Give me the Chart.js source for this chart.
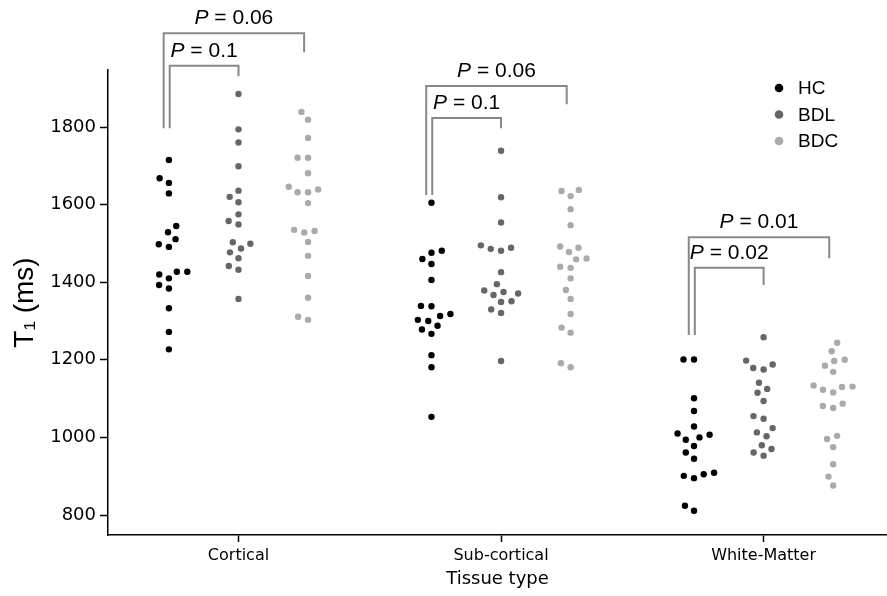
<!DOCTYPE html>
<html><head><meta charset="utf-8">
<script src="https://cdn.jsdelivr.net/npm/chart.js@4"></script>
<style>html,body{margin:0;padding:0;background:#fff}#wrap{width:887px;height:596px;position:relative}</style>
</head><body><div id="wrap"><canvas id="c" width="887" height="596"></canvas></div>
<script>
const categories = ['Cortical', 'Sub-cortical', 'White-Matter'];
const groups = ['HC', 'BDL', 'BDC'];
const yTicks = [800, 1000, 1200, 1400, 1600, 1800];

// T1 values (ms) per category for each group
const hcCortical = [1715, 1668, 1656, 1629, 1545, 1529, 1511, 1498, 1491, 1427, 1427, 1420, 1410, 1393, 1384, 1333, 1272, 1227];
const bdlCortical = [1885, 1794, 1760, 1699, 1636, 1620, 1606, 1575, 1558, 1549, 1503, 1499, 1487, 1477, 1462, 1442, 1432, 1357];
const bdcCortical = [1839, 1819, 1772, 1721, 1721, 1681, 1646, 1639, 1632, 1632, 1604, 1535, 1532, 1528, 1504, 1468, 1416, 1360, 1311, 1303];

const hcSubcortical = [1605, 1481, 1476, 1460, 1447, 1406, 1339, 1338, 1318, 1313, 1303, 1300, 1288, 1278, 1267, 1212, 1181, 1053];
const bdlSubcortical = [1739, 1619, 1554, 1495, 1489, 1486, 1481, 1426, 1395, 1379, 1375, 1371, 1367, 1351, 1349, 1330, 1321, 1197];
const bdcSubcortical = [1638, 1635, 1622, 1588, 1547, 1492, 1489, 1478, 1461, 1459, 1440, 1437, 1410, 1380, 1357, 1318, 1283, 1270, 1191, 1181];

const hcWhite = [1201, 1201, 1101, 1068, 1028, 1010, 1007, 1000, 994, 978, 961, 945, 909, 905, 901, 895, 824, 811];
const bdlWhite = [1258, 1198, 1188, 1179, 1175, 1141, 1125, 1115, 1094, 1055, 1048, 1024, 1013, 1003, 980, 970, 961, 953];
const bdcWhite = [1244, 1222, 1200, 1197, 1185, 1169, 1134, 1131, 1130, 1123, 1116, 1087, 1081, 1076, 1004, 996, 975, 931, 899, 876];

const seriesValues = [
  [hcCortical, hcSubcortical, hcWhite],
  [bdlCortical, bdlSubcortical, bdlWhite],
  [bdcCortical, bdcSubcortical, bdcWhite]
];

// significance annotations (bracket heights in ms)
const pLabels = ['0.06', '0.1', '0.06', '0.1', '0.01', '0.02'];
const pCategory = [0, 0, 1, 1, 2, 2];
const pTo = [2, 1, 2, 1, 2, 1];
const pTop = [2042, 1958, 1906, 1823, 1516, 1437];
const pLeftEnd = [1797, 1797, 1625, 1625, 1264, 1264];
const pRightEnd = [1993, 1931, 1859, 1797, 1462, 1393];

const colors = ['#000000', '#666666', '#aaaaaa'];
const groupOffset = [-0.265, 0, 0.265];

const datasets = groups.map((g, gi) => {
  const data = [];
  seriesValues[gi].forEach((vals, ci) => {
    vals.forEach(v => data.push({x: ci + groupOffset[gi], y: v, cat: ci}));
  });
  return {label: g, data, backgroundColor: colors[gi], borderWidth: 0, pointRadius: 3.2, pointHoverRadius: 3.2};
});

const overlay = {
  id: 'overlay',
  afterDraw(chart) {
    const ctx = chart.ctx, xs = chart.scales.x, ys = chart.scales.y;
    ctx.save();
    ctx.strokeStyle = '#888888';
    ctx.lineWidth = 2;
    for (let i = 0; i < pLabels.length; i++) {
      const c = pCategory[i];
      const outer = pTo[i] === 2;
      const xl = xs.getPixelForValue(c + (outer ? -0.285 : -0.262));
      const xr = xs.getPixelForValue(c + (outer ? 0.25 : 0));
      const yt = ys.getPixelForValue(pTop[i]);
      ctx.beginPath();
      ctx.moveTo(xl, ys.getPixelForValue(pLeftEnd[i]));
      ctx.lineTo(xl, yt);
      ctx.lineTo(xr, yt);
      ctx.lineTo(xr, ys.getPixelForValue(pRightEnd[i]));
      ctx.stroke();
      const f = '21px "Liberation Sans", Arial, sans-serif';
      ctx.font = 'italic ' + f;
      const wP = ctx.measureText('P').width;
      ctx.font = f;
      const rest = ' = ' + pLabels[i];
      const wR = ctx.measureText(rest).width;
      const cx = (xl + xr) / 2;
      const x0 = cx - (wP + wR) / 2;
      ctx.fillStyle = '#000';
      ctx.textBaseline = 'alphabetic';
      ctx.textAlign = 'left';
      ctx.font = 'italic ' + f;
      ctx.fillText('P', x0, yt - 9);
      ctx.font = f;
      ctx.fillText(rest, x0 + wP, yt - 9);
    }
    groups.forEach((g, gi) => {
      const y = 88 + gi * 26.5;
      ctx.fillStyle = colors[gi];
      ctx.beginPath();
      ctx.arc(779, y, 4.3, 0, Math.PI * 2);
      ctx.fill();
      ctx.fillStyle = '#000';
      ctx.font = '19px "Liberation Sans", Arial, sans-serif';
      ctx.textBaseline = 'middle';
      ctx.textAlign = 'left';
      ctx.fillText(g, 798, y + 1);
    });
    ctx.restore();
  }
};

const chart = new Chart(document.getElementById('c'), {
  type: 'scatter',
  data: {datasets},
  plugins: [overlay],
  options: {
    responsive: false,
    animation: false,
    events: [],
    layout: {autoPadding: false, padding: {top: 70, left: 0, right: 0, bottom: 0}},
    plugins: {legend: {display: false}, tooltip: {enabled: false}},
    scales: {
      x: {
        type: 'linear', min: -0.497, max: 2.47,
        afterBuildTicks: s => { s.ticks = [0, 1, 2].map(v => ({value: v})); },
        afterFit: s => { s.height = 61; s.paddingRight = 0; s.paddingLeft = 0; },
        ticks: {callback: v => categories[v], font: {family: '"DejaVu Sans"', size: 16}, color: '#000', padding: 4, maxRotation: 0, autoSkip: false},
        grid: {drawOnChartArea: false, drawTicks: true, tickLength: 7, tickWidth: 1.5, tickColor: '#000'},
        border: {display: true, color: '#000', width: 1.5},
        title: {display: true, text: 'Tissue type', font: {family: '"DejaVu Sans"', size: 18}, color: '#000', padding: {top: 0, bottom: 6}}
      },
      y: {
        min: 748.5, max: 1947,
        afterBuildTicks: s => { s.ticks = yTicks.map(v => ({value: v})); },
        afterFit: s => { s.width = 108; s.paddingTop = 0; s.paddingBottom = 0; },
        ticks: {callback: v => String(v), font: {family: '"DejaVu Sans"', size: 18}, color: '#000', padding: 4},
        grid: {drawOnChartArea: false, drawTicks: true, tickLength: 8, tickWidth: 1.5, tickColor: '#000'},
        border: {display: true, color: '#000', width: 1.5},
        title: {display: true, text: 'T₁ (ms)', font: {family: '"Liberation Sans"', size: 28}, color: '#000', padding: {top: 8, bottom: 0}}
      }
    }
  }
});

// beeswarm layout of each group, computed in pixel space from the chart's own scales
(function swarm() {
  const xs = chart.scales.x, ys = chart.scales.y;
  const d = 10;
  chart.data.datasets.forEach((ds, gi) => {
    categories.forEach((c, ci) => {
      const pts = ds.data.filter(p => p.cat === ci).sort((a, b) => a.y - b.y);
      const centerPx = xs.getPixelForValue(ci + groupOffset[gi]);
      const placed = [];
      pts.forEach(p => {
        const py = ys.getPixelForValue(p.y);
        const nb = placed.filter(q => Math.abs(q.py - py) < d);
        let cands = [0];
        nb.slice().reverse().forEach(q => {
          const dx = Math.sqrt(d * d - (q.py - py) ** 2) * 1.05;
          cands.push(q.px - dx, q.px + dx);
        });
        cands = cands.map((v, i) => ({v, i})).sort((a, b) => (Math.abs(a.v) - Math.abs(b.v)) || (a.i - b.i)).map(o => o.v);
        const chosen = cands.find(cx => nb.every(q => Math.hypot(q.px - cx, q.py - py) >= d - 0.01));
        placed.push({px: chosen, py});
        p.x = xs.getValueForPixel(centerPx + chosen);
      });
    });
  });
  chart.update();
})();
</script>
</body></html>
